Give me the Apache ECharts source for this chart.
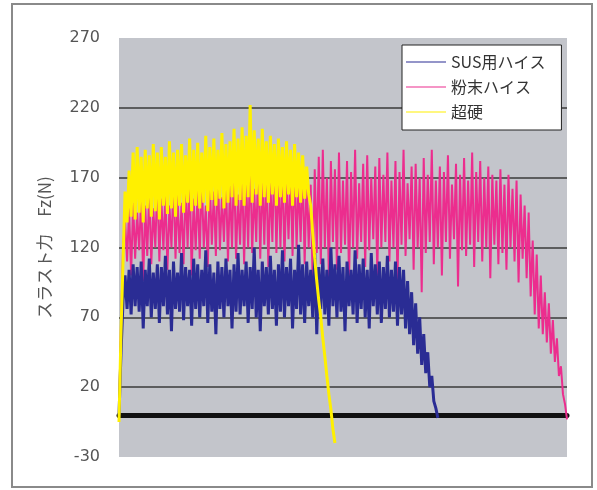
<!DOCTYPE html>
<html>
<head>
<meta charset="utf-8">
<script src="https://cdn.jsdelivr.net/npm/echarts@6/dist/echarts.min.js"></script>
<style>
html,body{margin:0;padding:0;background:#fff;}
#chart{width:597px;height:490px;}
</style>
</head>
<body>
<div id="chart"></div>
<script>
// Series names (legend order)
var seriesNames = ['SUS用ハイス', '粉末ハイス', '超硬'];
var yAxisName = 'スラスト力\u3000Fz(N)';
var yTicks = [-30, 20, 70, 120, 170, 220, 270];

// 粉末ハイス (magenta)
var powderHSS = [
  0, 65, 118, 140, 110, 148, 100, 152, 112, 145,
  118, 158, 96, 150, 114, 162, 108, 148, 120, 168,
  110, 155, 118, 160, 104, 150, 120, 170, 112, 158,
  116, 152, 108, 165, 120, 175, 100, 155, 118, 162,
  112, 172, 120, 150, 106, 168, 122, 160, 114, 178,
  118, 156, 124, 170, 110, 164, 120, 180, 112, 158,
  122, 176, 108, 170, 120, 185, 116, 162, 124, 182,
  112, 172, 122, 178, 106, 168, 124, 185, 116, 172,
  120, 180, 110, 170, 126, 176, 114, 182, 120, 168,
  124, 178, 108, 172, 120, 165, 92, 176, 116, 185,
  108, 190, 120, 170, 98, 182, 124, 176, 104, 188,
  116, 168, 122, 182, 95, 174, 120, 190, 112, 166,
  124, 180, 106, 186, 118, 170, 126, 178, 100, 184,
  120, 172, 124, 188, 110, 168, 120, 182, 95, 174,
  122, 190, 114, 166, 126, 178, 104, 180, 120, 170,
  88, 184, 116, 172, 124, 190, 108, 168, 120, 178,
  100, 174, 124, 186, 112, 165, 126, 180, 92, 172,
  118, 184, 114, 168, 122, 188, 106, 174, 124, 182,
  110, 170, 120, 178, 98, 172, 122, 168, 108, 176,
  116, 165, 104, 172, 120, 162, 110, 168, 95, 158,
  112, 150, 98, 145, 85, 125, 72, 115, 62, 100,
  58, 88, 52, 80, 44, 68, 38, 55, 28, 35,
  15, 8, -3
];

// SUS用ハイス (blue)
var susHSS = [
  0, 45, 82, 100, 76, 104, 72, 108, 78, 106,
  74, 110, 62, 104, 78, 112, 70, 102, 76, 108,
  66, 106, 78, 114, 72, 104, 60, 110, 76, 102,
  74, 116, 68, 106, 78, 104, 64, 112, 76, 108,
  70, 104, 78, 118, 66, 108, 74, 102, 58, 110,
  76, 106, 70, 112, 78, 104, 62, 108, 74, 116,
  72, 104, 78, 110, 66, 106, 76, 120, 70, 104,
  60, 110, 78, 106, 72, 114, 76, 104, 64, 108,
  74, 118, 70, 106, 78, 112, 62, 104, 76, 122,
  72, 108, 66, 110, 78, 104, 70, 116, 58, 106,
  76, 112, 72, 104, 64, 120, 78, 108, 70, 114,
  74, 106, 60, 110, 78, 104, 72, 118, 66, 108,
  76, 112, 70, 104, 62, 116, 78, 108, 72, 110,
  66, 106, 76, 114, 70, 104, 74, 110, 64, 106,
  72, 104, 62, 96, 58, 88, 50, 80, 44, 70,
  36, 58, 30, 45, 20, 28, 10, 5, -2
];

// 超硬 (yellow)
var carbide = [
  -5, 60, 110, 160, 138, 175, 142, 188, 140, 192,
  145, 185, 138, 190, 148, 186, 142, 194, 146, 188,
  140, 192, 150, 185, 144, 196, 148, 188, 142, 190,
  150, 194, 145, 186, 152, 198, 146, 190, 150, 195,
  148, 188, 152, 200, 146, 192, 154, 198, 150, 190,
  155, 202, 148, 194, 152, 196, 156, 205, 150, 198,
  154, 206, 150, 200, 156, 222, 152, 204, 158, 198,
  150, 205, 156, 196, 152, 200, 158, 194, 150, 198,
  156, 192, 152, 196, 158, 190, 150, 194, 156, 188,
  152, 186, 155, 178, 158, 150, 130, 112, 96, 82,
  70, 55, 42, 28, 15, 4, -10, -20
];

var nCats = Math.max(powderHSS.length, susHSS.length, carbide.length);
var categories = [];
for (var i = 0; i < nCats; i++) categories.push(String(i));

var legendIcon = 'path://M0,0 L40,0 L40,1 L0,1 Z';

var chart = echarts.init(document.getElementById('chart'), null, {renderer: 'canvas'});
chart.setOption({
  animation: false,
  backgroundColor: '#ffffff',
  graphic: [{
    type: 'rect',
    shape: {x: 12, y: 4, width: 580, height: 483},
    style: {fill: 'none', stroke: '#8a8a8a', lineWidth: 2},
    silent: true,
    z: -1
  }],
  grid: {
    left: 119, right: 30, top: 38, bottom: 33,
    show: true, backgroundColor: '#c3c5cb', borderWidth: 0
  },
  legend: {
    data: seriesNames.map(function (n) { return {name: n, icon: legendIcon}; }),
    orient: 'vertical',
    left: 402, top: 45,
    backgroundColor: '#ffffff',
    borderColor: '#222',
    borderWidth: 1,
    borderRadius: 0,
    padding: [9, 16, 10, 4],
    itemGap: 9,
    itemWidth: 40,
    itemHeight: 1.5,
    textStyle: {color: '#333', fontSize: 16, lineHeight: 15, fontFamily: 'Noto Sans CJK JP'}
  },
  xAxis: {
    type: 'category',
    data: categories,
    boundaryGap: false,
    axisLine: {show: true, onZero: true, lineStyle: {color: '#111', width: 5}},
    axisTick: {show: false},
    axisLabel: {show: false},
    splitLine: {show: false}
  },
  yAxis: {
    type: 'value',
    min: -30, max: 270, interval: 50,
    name: yAxisName,
    nameLocation: 'middle',
    nameGap: 66,
    nameTextStyle: {color: '#555', fontSize: 17, fontFamily: 'Noto Sans CJK JP'},
    axisLine: {show: false},
    axisTick: {show: false},
    axisLabel: {
      color: '#555', fontSize: 16, fontFamily: 'DejaVu Sans', margin: 19,
      formatter: function (v) { return yTicks.indexOf(v) >= 0 ? String(v) : ''; }
    },
    splitLine: {show: true, showMinLine: false, showMaxLine: false, lineStyle: {color: '#3a3a3a', width: 1.5}}
  },
  series: [
    {
      name: '粉末ハイス', type: 'line', data: powderHSS,
      symbol: 'none', lineStyle: {color: '#ec2d8e', width: 2}, itemStyle: {color: '#ec2d8e'}, z: 2
    },
    {
      name: 'SUS用ハイス', type: 'line', data: susHSS,
      symbol: 'none', lineStyle: {color: '#2a2c94', width: 3}, itemStyle: {color: '#2a2c94'}, z: 3
    },
    {
      name: '超硬', type: 'line', data: carbide,
      symbol: 'none', lineStyle: {color: '#fff000', width: 3}, itemStyle: {color: '#fff000'}, z: 4
    }
  ]
});
</script>
</body>
</html>
